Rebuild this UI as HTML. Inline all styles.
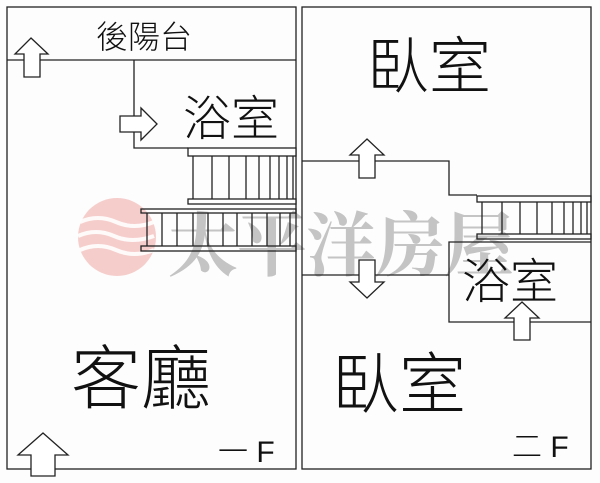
<!DOCTYPE html>
<html><head><meta charset="utf-8"><style>
html,body{margin:0;padding:0;background:#fff}
svg{display:block}
text{font-family:"Liberation Sans","Noto Sans CJK TC",sans-serif;fill:#111;font-weight:300}
</style></head><body>
<svg width="600" height="483" viewBox="0 0 600 483" xmlns="http://www.w3.org/2000/svg">
<rect width="600" height="483" fill="#fdfdfd"/>
<circle cx="117" cy="237" r="39" fill="#f3c2bf" opacity="0.8"/>
<g stroke="#fff" stroke-width="4" fill="none" opacity="0.9">
<path d="M80 222 q18 -8 36 0 t38 0"/><path d="M78 236 q18 -8 36 0 t40 0"/><path d="M80 250 q18 -8 36 0 t38 0"/>
</g>
<text x="168" y="270" style="font-family:'Noto Serif CJK SC',serif;font-weight:bold;font-size:70px;fill:#c4c4c4;letter-spacing:-1px">太平洋房屋</text>
<g fill="none" stroke="#222" stroke-width="1.3">
<rect x="7" y="7" width="289" height="462"/>
<rect x="302" y="7" width="289" height="462"/>
<line x1="7" y1="60" x2="296" y2="60"/>
<polyline points="134,60 134,148 188,148"/>
<rect x="188" y="148" width="108" height="8" fill="#fff"/>
<rect x="188" y="199" width="108" height="5" fill="#fff"/>
<path d="M193 156V199M212 156V199M229 156V199M246 156V199M259 156V199M270 156V199M279 156V199M287 156V199M293 156V199"/>
<rect x="141" y="209" width="155" height="4" fill="none"/>
<rect x="141" y="246" width="155" height="5" fill="none"/>
<path d="M147 213V246M162 213V246M177 213V246M193 213V246M208 213V246M223 213V246M237 213V246M252 213V246M267 213V246M280 213V246M290 213V246"/>
<polyline points="302,161 449,161 449,195 477,195"/>
<line x1="302" y1="275" x2="449" y2="275"/>
<polyline points="591,242 449,242 449,322 591,322"/>
<rect x="477" y="196" width="114" height="6"/>
<rect x="477" y="234" width="114" height="5"/>
<path d="M482 202V234M502 202V234M520 202V234M537 202V234M552 202V234M564 202V234M573 202V234M581 202V234M587 202V234"/>
<polygon fill="#fff" points="31,38 48,54 40,54 40,77 24,77 24,54 15,54"/>
<polygon fill="#fff" points="157,124 141,108 141,116 120,116 120,132 141,132 141,140"/>
<polygon fill="#fff" points="43,433 68,455 55,455 55,476 31,476 31,455 18,455"/>
<polygon fill="#fff" points="367,139 384,155 375,155 375,178 359,178 359,155 350,155"/>
<polygon fill="#fff" points="367,298 384,282 375,282 375,260 359,260 359,282 350,282"/>
<polygon fill="#fff" points="522,302 539,318 530,318 530,340 514,340 514,318 505,318"/>
</g>
<text x="96" y="48" font-size="32">後陽台</text>
<text x="183" y="135" font-size="48">浴室</text>
<text x="367" y="88" font-size="62">臥室</text>
<text x="71" y="403" font-size="70">客廳</text>
<text x="332" y="408" font-size="67">臥室</text>
<text x="462" y="298" font-size="48">浴室</text>
<text x="218" y="462" font-size="30">一 F</text>
<text x="512" y="457" font-size="30">二 F</text>
</svg>
</body></html>
